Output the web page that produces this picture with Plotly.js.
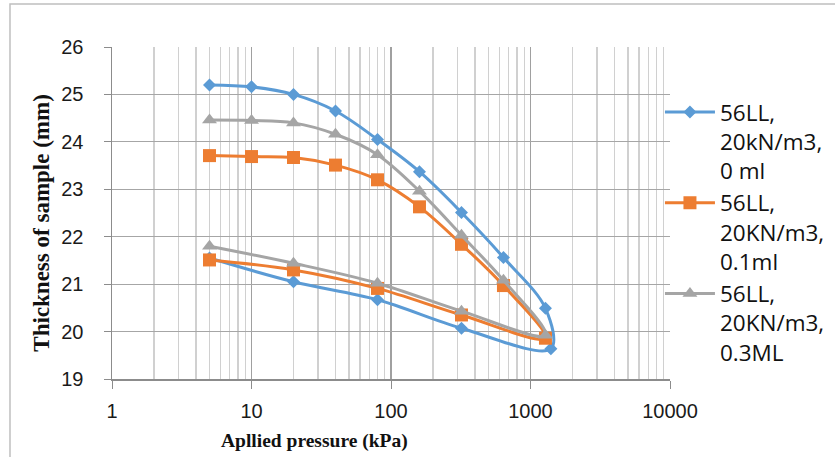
<!DOCTYPE html>
<html>
<head>
<meta charset="utf-8">
<script src="https://cdn.plot.ly/plotly-3.0.1.min.js"></script>
<style>html,body{margin:0;padding:0;background:#fff;}#chart{width:835px;height:457px;}</style>
</head>
<body>
<div id="chart"></div>
<script>
// Series names
const seriesNames = ['56LL,<br>20kN/m3,<br>0 ml', '56LL,<br>20KN/m3,<br>0.1ml', '56LL,<br>20KN/m3,<br>0.3ML'];

// Applied pressure (kPa): loading then unloading
const pressure0 = [5, 10, 20, 40, 80, 160, 320, 640, 1280, 1400, 320, 80, 20, 5];
const thick0    = [25.20, 25.16, 25.00, 24.65, 24.05, 23.37, 22.51, 21.56, 20.49, 19.64, 20.07, 20.67, 21.05, 21.55];

const pressure1 = [5, 10, 20, 40, 80, 160, 320, 640, 1280, 320, 80, 20, 5];
const thick1    = [23.71, 23.69, 23.67, 23.51, 23.20, 22.63, 21.84, 20.97, 19.86, 20.35, 20.91, 21.30, 21.51];

const pressure2 = [5, 10, 20, 40, 80, 160, 320, 640, 1280, 320, 80, 20, 5];
const thick2    = [24.46, 24.45, 24.40, 24.16, 23.73, 22.96, 22.03, 21.08, 19.92, 20.43, 21.02, 21.44, 21.80];

// Axis ticks
const xTickVals = [1, 10, 100, 1000, 10000];
const xTickText = ['1', '10', '100', '1000', '10000'];
const yTickVals = [19, 20, 21, 22, 23, 24, 25, 26];

const colors = ['#5B9BD5', '#ED7D31', '#A5A5A5'];
const symbols = ['diamond', 'square', 'triangle-up'];
const sizes = [10, 13, 13];
const xs = [pressure0, pressure1, pressure2];
const ys = [thick0, thick1, thick2];

const traces = xs.map((x, i) => ({
  x: x, y: ys[i], name: seriesNames[i],
  type: 'scatter', mode: 'lines+markers',
  line: {color: colors[i], width: 3, shape: 'spline', smoothing: 1},
  marker: {color: colors[i], symbol: symbols[i], size: sizes[i]}
}));

const layout = {
  width: 835, height: 457,
  margin: {l: 112, r: 165, t: 47, b: 78, autoexpand: false},
  paper_bgcolor: '#fff', plot_bgcolor: '#fff',
  font: {family: 'Liberation Sans, Arial, sans-serif', color: '#1a1a1a'},
  showlegend: true,
  legend: {
    x: 0.982, xanchor: 'left', y: 0.868, yanchor: 'top',
    font: {size: 22.5, family: 'Open Sans, Roboto, sans-serif', color: '#111'},
    bgcolor: 'rgba(0,0,0,0)', borderwidth: 0, valign: 'top',
    tracegroupgap: 0, itemwidth: 50
  },
  xaxis: {
    type: 'log', range: [0, 4],
    tickmode: 'array', tickvals: xTickVals, ticktext: xTickText,
    ticks: 'outside', ticklen: 8, tickcolor: '#8c8c8c', tickwidth: 1,
    tickfont: {size: 20}, ticklabelstandoff: 5,
    showgrid: true, gridcolor: '#a0a0a0', gridwidth: 1.2,
    minor: {dtick: 'D1', showgrid: true, gridcolor: '#d0d0d0', gridwidth: 1.2, ticks: ''},
    showline: true, linecolor: '#8c8c8c', linewidth: 1.5,
    zeroline: false, automargin: false
  },
  yaxis: {
    range: [19, 26], tickmode: 'array', tickvals: yTickVals,
    ticks: 'outside', ticklen: 7, tickcolor: '#8c8c8c', tickwidth: 1,
    tickfont: {size: 20}, ticklabelstandoff: 16,
    showgrid: true, gridcolor: '#a6a6a6', gridwidth: 1.2,
    showline: true, linecolor: '#8c8c8c', linewidth: 1.5,
    zeroline: false, automargin: false
  },
  annotations: [
    {text: '<b>Thickness of sample (mm)</b>', xref: 'paper', yref: 'paper',
     x: -0.1254, y: 0.468, xanchor: 'center', yanchor: 'middle', textangle: -90,
     showarrow: false, font: {family: 'Liberation Serif, Times New Roman, serif', size: 23, color: '#111'}},
    {text: '<b>Apllied pressure (kPa)</b>', xref: 'paper', yref: 'paper',
     x: 0.363, y: -0.187, xanchor: 'center', yanchor: 'middle',
     showarrow: false, font: {family: 'Liberation Serif, Times New Roman, serif', size: 19.5, color: '#111'}}
  ],
  shapes: [
    {type: 'rect', xref: 'paper', yref: 'paper', x0: -0.1828, x1: 2, y0: -1, y1: 1.1295,
     line: {color: '#bfbfbf', width: 1.5}, fillcolor: 'rgba(0,0,0,0)', layer: 'above'}
  ]
};

Plotly.newPlot('chart', traces, layout, {staticPlot: true, displayModeBar: false});
</script>
</body>
</html>
